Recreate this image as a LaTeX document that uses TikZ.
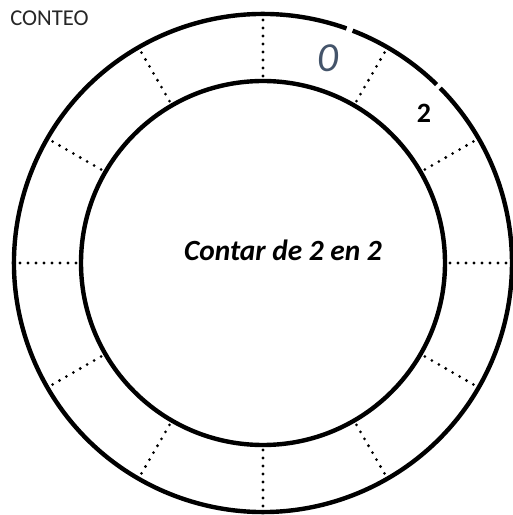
\documentclass[tikz,border=0pt]{standalone}
\usepackage{fontspec}
\setmainfont{Carlito}
\usetikzlibrary{positioning}
\definecolor{Ink}{HTML}{000000}
\definecolor{Slate}{HTML}{44546A}
\tikzset{ring/.style={line width=3.3pt,draw=Ink},
  spoke/.style={line width=2.3pt,line cap=round,dash pattern=on 0pt off 6pt,draw=Ink},
  title/.style={font=\fontsize{17}{18}\selectfont,text=Ink!85,inner sep=0pt},
  centre/.style={font=\fontsize{22}{24}\selectfont\bfseries\itshape,text=Ink},
  cell/.style={inner sep=0pt}}

\begin{document}
\begin{tikzpicture}[x=0.75pt,y=0.75pt]
  \useasboundingbox (0,0) rectangle (512,515);
  \coordinate (c) at (263,252);
  \node[title,anchor=west] (h) at (10,497) {CONTEO};
  \begin{scope}[shift={(c)}]
    % outer ring, with the two small breaks
    \draw[ring] (45.8:249) arc[start angle=45.8,end angle=68.9,radius=249];
    \draw[ring] (70.4:249) arc[start angle=70.4,end angle=404.6,radius=249];
    \draw[ring] (0,0) circle (182);
    \foreach \a in {0,30,...,330}
      \draw[spoke] (\a:187) -- (\a:247);
  \end{scope}
  \node[centre] (t) at (283,265) {Contar de 2 en 2};
  \node[cell,text=Slate,font=\fontsize{31}{31}\selectfont\itshape] (n0) at (328,457) {0};
  \node[cell,font=\fontsize{21}{21}\selectfont\bfseries] (n2) at (424,402) {2};
\end{tikzpicture}
\end{document}
